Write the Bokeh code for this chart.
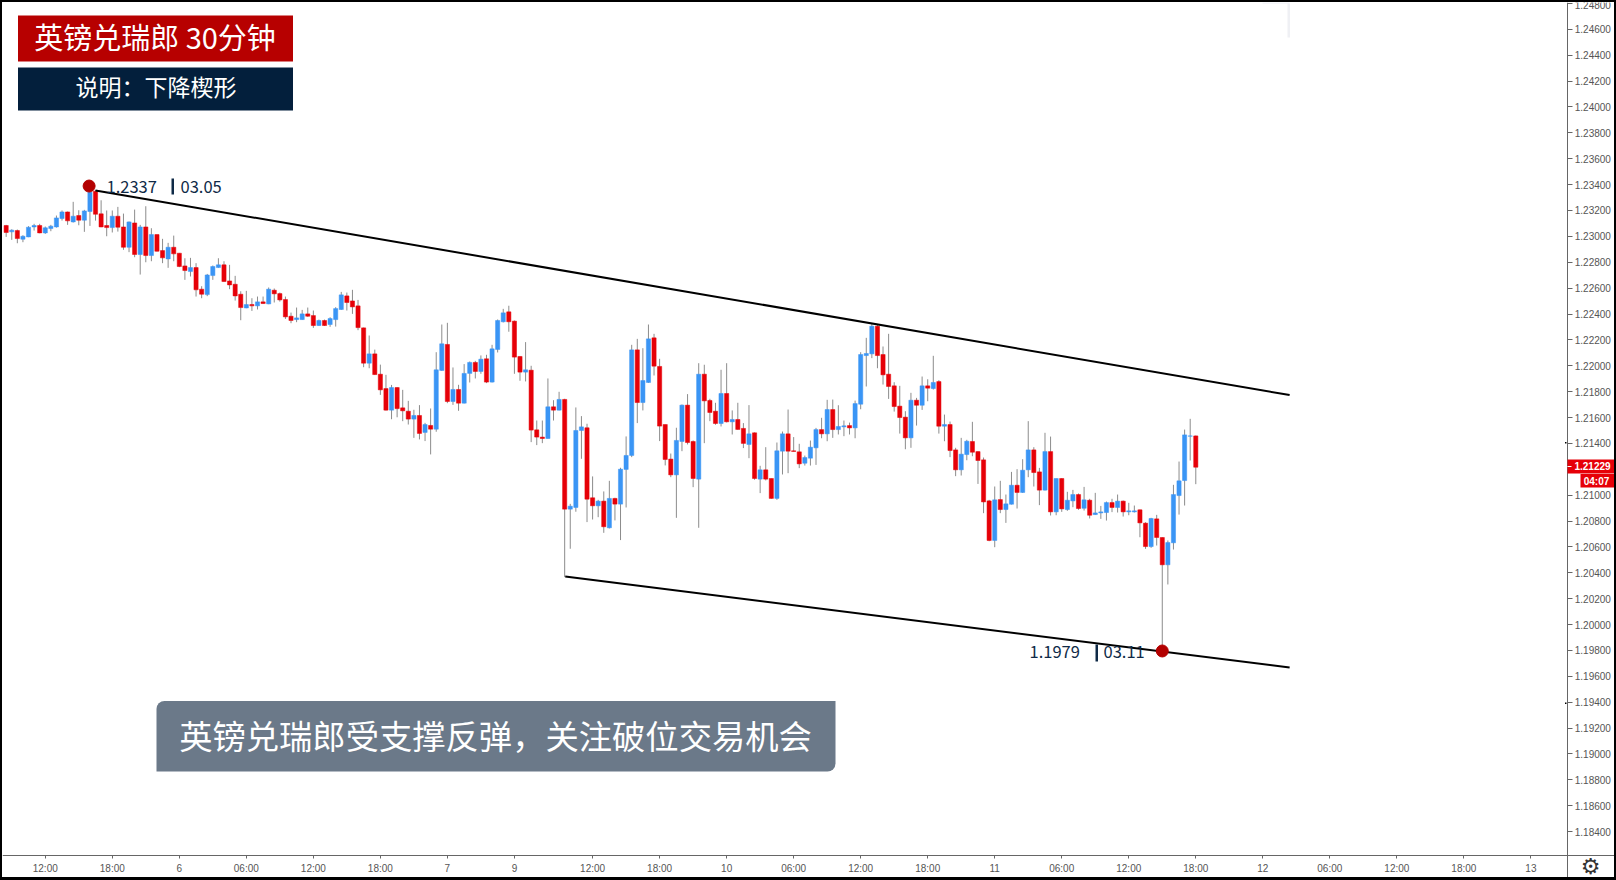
from bokeh.plotting import figure
from bokeh.models import Range1d, FixedTicker, ColumnDataSource, Label, BoxAnnotation, NumeralTickFormatter
from bokeh.embed import file_html
from bokeh.resources import INLINE
import numpy as np

# Prices are in units of 0.00001
highs = [123098,123064,123062,123018,123088,123106,123106,123085,123098,123170,123209,123201,123276,123211,123214,123368,123368,123288,123209,123209,123237,123185,123124,123216,123098,123242,123072,123023,122990,122959,123015,122881,122840,122843,122802,122624,122719,122784,122840,122817,122789,122704,122585,122588,122531,122544,122544,122614,122606,122575,122544,122420,122459,122441,122459,122436,122366,122366,122384,122462,122580,122575,122596,122518,122304,122243,122134,122018,121939,121861,121843,
 121823,121738,121669,121705,121568,121679,122114,122328,122341,121996,121862,122022,122042,122047,122089,122094,122171,122367,122449,122473,122359,122084,122192,122009,121586,121586,121911,121743,121808,121754,120942,121687,121620,121561,121154,120973,121038,121120,120989,121221,121463,122171,122217,122145,122328,122256,122063,121555,121331,121530,121710,121790,121432,122029,122017,121754,121723,121978,122029,121664,121723,121566,121705,121494,121236,121380,121138,121416,121501,121671,121458,121406,
 121315,121431,121529,121607,121746,121748,121704,121586,121570,121740,122114,122225,122333,122328,122158,122256,121882,121854,121658,121800,121761,121926,121905,122086,121898,121632,121578,121375,121452,121437,121576,121349,121300,120973,121076,121120,121014,121189,121210,121287,121581,121380,121220,121491,121462,121138,121140,121035,121050,121022,121073,120981,121027,120926,120960,120981,121014,120968,120950,120929,120898,120800,120834,120857,120684,120659,121089,121269,121516,121599,121470]
body_tops = [123093,123057,123054,123010,123080,123093,123093,123075,123088,123152,123198,123198,123165,123170,123206,123350,123358,123183,123093,123165,123165,123082,123121,123113,123082,123082,123023,123023,122899,122925,122925,122879,122781,122768,122768,122601,122711,122776,122789,122789,122665,122639,122562,122482,122482,122503,122503,122601,122593,122567,122521,122392,122379,122410,122410,122397,122359,122359,122374,122451,122557,122549,122510,122472,122302,122101,122101,121944,121833,121841,121841,
 121684,121658,121625,121625,121555,121548,121978,122179,122174,121826,121826,121950,122035,122035,122060,122063,122140,122359,122418,122426,122354,122081,121978,121975,121514,121458,121692,121692,121749,121749,120924,121509,121537,121530,120989,120963,120963,120984,120984,121210,121316,122132,122132,121895,122217,122225,122004,121555,121288,121432,121705,121705,121424,121944,121944,121741,121658,121795,121795,121594,121594,121525,121483,121491,121205,121205,121138,121352,121483,121483,121352,121344,
 121300,121380,121516,121516,121671,121671,121540,121545,121547,121717,122096,122104,122315,122315,122096,121944,121854,121697,121612,121743,121743,121854,121854,121880,121887,121555,121555,121359,121326,121426,121424,121346,121282,120965,120973,120975,120942,121086,121086,121202,121359,121359,121189,121346,121346,121138,121138,120970,121014,121014,120973,120970,120872,120880,120952,120952,120963,120963,120888,120888,120896,120793,120829,120826,120682,120643,121014,121120,121475,121467,121467]
body_bots = [123039,123044,122992,122987,123005,123082,123036,123036,123069,123082,123147,123129,123121,123134,123134,123201,123180,123082,123077,123077,123080,122925,122925,122869,122869,122861,122861,122894,122843,122835,122874,122776,122745,122737,122596,122562,122559,122706,122768,122660,122634,122549,122459,122456,122472,122472,122490,122487,122565,122518,122387,122359,122366,122366,122392,122320,122320,122320,122328,122366,122444,122498,122464,122304,122029,122029,121941,121823,121666,121666,121678,
 121661,121597,121597,121486,121494,121519,121519,121973,121733,121733,121720,121720,121950,121965,121965,121883,121883,122135,122349,122349,122076,121960,121960,121512,121458,121447,121447,121666,121666,120901,120901,120914,121509,120978,120927,120927,120765,120757,120940,120940,121208,121316,121725,121725,121880,122006,121543,121285,121166,121166,121424,121416,121138,121133,121738,121648,121563,121563,121576,121576,121517,121409,121401,121138,121133,121133,120984,120984,121349,121349,121347,121251,
 121256,121295,121375,121483,121483,121516,121516,121537,121529,121529,121712,122088,122101,122088,121939,121849,121694,121609,121452,121452,121704,121704,121836,121833,121542,121542,121354,121205,121205,121323,121341,121277,120957,120659,120659,120898,120898,120939,121030,121030,121205,121184,121048,121048,120880,120880,120903,120898,120965,120906,120908,120854,120859,120872,120875,120914,120914,120880,120880,120880,120795,120612,120612,120682,120471,120471,120641,121006,121122,121465,121225]
lows = [123005,122982,122956,122964,123003,123054,123033,123028,123049,123077,123131,123098,123116,123095,123044,123090,123131,123080,123010,123039,123046,122905,122887,122848,122714,122809,122817,122892,122802,122766,122817,122771,122673,122699,122544,122531,122547,122673,122766,122657,122601,122513,122361,122454,122433,122444,122487,122485,122498,122505,122371,122338,122346,122364,122387,122302,122317,122317,122310,122312,122441,122436,122410,122284,121998,121990,121939,121784,121663,121596,121611,
 121581,121555,121452,121440,121427,121324,121499,121970,121720,121707,121661,121718,121880,121911,121947,121875,121880,122112,122344,122272,121947,121893,121888,121419,121396,121411,121445,121586,121664,120376,120595,120881,121290,120801,120821,120839,120718,120752,120814,120662,120914,121303,121566,121664,121877,121934,121427,121239,121148,120834,121349,121401,121071,120757,121411,121581,121553,121540,121571,121478,121514,121373,121295,121128,121025,121123,120981,120973,121169,121179,121347,121218,
 121238,121238,121243,121449,121426,121452,121478,121465,121478,121449,121673,121849,122068,121990,121864,121753,121655,121485,121364,121375,121547,121668,121735,121825,121485,121426,121303,121156,121161,121279,121310,121096,120870,120653,120607,120870,120795,120937,120906,121027,121148,121076,120932,121045,120852,120854,120880,120888,120916,120896,120890,120829,120857,120826,120813,120878,120875,120844,120854,120875,120684,120594,120602,120620,119790,120319,120589,120859,120929,121277,121094]
directions = ("RBRBBBRBBB" "BRBRBBRRRB" "RRBRBRBRRB" "RRRBRRBBBR" "RRRBRBRBRR" "RRBBRRBRBB" "BRRRRBRRRBR"
              "RRBRBRBBRB" "RBBRBRBBBR" "RRBRRRBRBR" "BBBRRBRBRB" "BBRBBRRRRB" "BRRBRRRBRB" "RRBRBRRBBRRR"
              "BBBRBRBBRB" "BBBRRRRRRB" "RBRBRBRRBB" "RRRRBRBBRB" "BRRBRBRBBR" "BRBBBRBRBB" "RRBRRBBBBBR")

price_ticks = [1.184,1.186,1.188,1.190,1.192,1.194,1.196,1.198,1.200,1.202,1.204,1.206,1.208,1.210,1.214,1.216,1.218,1.220,1.222,1.224,1.226,1.228,1.230,1.232,1.234,1.236,1.238,1.240,1.242,1.244,1.246,1.248]
time_labels = {7:"12:00",19:"18:00",31:"6",43:"06:00",55:"12:00",67:"18:00",79:"7",91:"9",105:"12:00",117:"18:00",129:"10",141:"06:00",153:"12:00",165:"18:00",177:"11",189:"06:00",201:"12:00",213:"18:00",225:"12",237:"06:00",249:"12:00",261:"18:00",273:"13"}
upper_line_x = [16.0, 229.8]; upper_line_y = [1.23355, 1.21774]
lower_line_x = [100.1, 229.8]; lower_line_y = [1.20372, 1.19668]
pivot_x = [14.85, 207]; pivot_y = [1.23389, 1.19796]
READING_OFFSET = 0.00009   # the candle readings above sit this far high against the price scale

n = len(highs)
assert n == len(lows) == len(body_tops) == len(body_bots) == len(directions), (len(highs),len(lows),len(body_tops),len(body_bots),len(directions))

BLUE, RED = "#3a95f5", "#e60008"
src = ColumnDataSource(dict(
    x=list(range(n)),
    h=np.array(highs)/1e5 - READING_OFFSET, l=np.array(lows)/1e5 - READING_OFFSET,
    t=np.array(body_tops)/1e5 - READING_OFFSET, b=np.array(body_bots)/1e5 - READING_OFFSET,
    c=[BLUE if d == "B" else RED for d in directions]))

W, H = 1616, 880
p = figure(width=W, height=H, output_backend="svg", toolbar_location=None,
           x_range=Range1d(-0.657, 287.97), y_range=Range1d(1.180455, 1.248074),
           y_axis_location="right", min_border_left=2, min_border_top=2,
           min_border_right=2, min_border_bottom=3,
           background_fill_color="white", border_fill_color="white", outline_line_color=None)
p.grid.visible = False

GREY = "#555555"
ya = p.yaxis[0]
ya.fixed_location = 279.6
ya.ticker = FixedTicker(ticks=price_ticks)
ya.formatter = NumeralTickFormatter(format="0.00000")
ya.axis_line_color = "#666666"; ya.major_tick_line_color = "#666666"
ya.major_tick_out = 5; ya.major_tick_in = 0; ya.minor_tick_line_color = None
ya.major_label_text_font = "Liberation Sans"; ya.major_label_text_font_size = "10px"
ya.major_label_text_color = GREY; ya.major_label_standoff = 2
ya.major_label_orientation = "horizontal"

xa = p.xaxis[0]
xa.fixed_location = 1.18212
xa.ticker = FixedTicker(ticks=list(time_labels))
xa.major_label_overrides = time_labels
xa.axis_line_color = "#666666"; xa.major_tick_line_color = "#666666"
xa.major_tick_out = 3; xa.major_tick_in = 0; xa.minor_tick_line_color = None
xa.major_label_text_font = "Liberation Sans"; xa.major_label_text_font_size = "10px"
xa.major_label_text_color = GREY; xa.major_label_standoff = 4

p.segment("x", "h", "x", "l", source=src, line_color="#8c8c8c", line_width=1)
p.vbar(x="x", top="t", bottom="b", width=0.75, source=src, fill_color="c", line_color="c", line_width=0.5)

p.line(upper_line_x, upper_line_y, line_color="black", line_width=2)
p.line(lower_line_x, lower_line_y, line_color="black", line_width=2)
p.scatter(pivot_x, pivot_y, size=12, fill_color="#b30000", line_color="#b30000")

def box(l, t, r, b, color, radius=None):
    kw = {}
    if radius is not None:
        kw["border_radius"] = radius
    p.add_layout(BoxAnnotation(left=l, right=r, top=t, bottom=b,
                 left_units="canvas", right_units="canvas", top_units="canvas", bottom_units="canvas",
                 fill_color=color, fill_alpha=1.0, line_color=None, **kw))

def text(x, y, s, size, color="white", font="Noto Sans CJK SC", align="center", style="normal"):
    p.add_layout(Label(x=x, y=y, x_units="canvas", y_units="canvas", text=s,
                 text_font=font, text_font_size=f"{size}px", text_color=color,
                 text_align=align, text_baseline="middle", text_font_style=style))

box(17.5, 15, 292.5, 61, "#b70000")
text(154.5, 35, "英镑兑瑞郎 30分钟", 29)
box(17.5, 67, 292.5, 110, "#031f3c")
text(155.5, 85, "说明：下降楔形", 23)

box(156, 700.5, 835, 771, "#6b7989", radius=(8, 0, 8, 0))
text(495, 734, "英镑兑瑞郎受支撑反弹，关注破位交易机会", 33.3)

NAVY = "#0f2a47"
text(106, 186, "1.2337", 16.5, NAVY, align="left")
box(171, 178, 173.5, 194, NAVY)
text(180, 186, "03.05", 16.5, NAVY, align="left")
text(1029, 651, "1.1979", 16.5, NAVY, align="left")
box(1095, 644, 1097.5, 661, NAVY)
text(1103, 651, "03.11", 16.5, NAVY, align="left")

box(1567, 459, 1614, 473, "#e60008")
box(1567, 465.5, 1571, 466.5, "white")
text(1592, 465.5, "1.21229", 10, "white", "Liberation Sans", style="bold")
box(1580, 473.5, 1614, 487, "#e60008")
text(1596, 480.5, "04:07", 10, "white", "Liberation Sans", style="bold")

box(1564.5, 441.5, 1566, 443, "black")
box(1564.5, 702, 1566, 703.5, "black")
box(1287, 3, 1289.5, 37, "#eff0f4")
box(1262, 2, 1289, 3, "#eceef6")

text(1590, 866, "⚙", 22, "#333333", "DejaVu Sans")

frame = ('<div style="position:fixed;left:0;top:0;width:1616px;height:880px;box-sizing:border-box;'
         'border-style:solid;border-color:#000;border-width:2px 2px 3px 2px;pointer-events:none"></div>')
html = file_html(p, INLINE)
html = html.replace("<head>", "<head><style>html,body{margin:0;padding:0;overflow:hidden;background:#fff}</style>", 1)
html = html.replace("</body>", frame + "</body>", 1)
open("out.html", "w").write(html)
